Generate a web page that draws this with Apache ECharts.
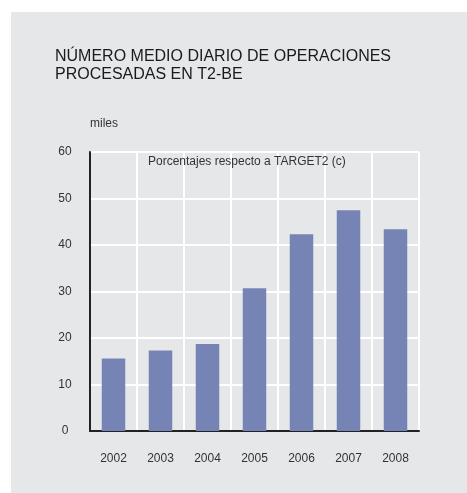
<!DOCTYPE html>
<html>
<head>
<meta charset="utf-8">
<script src="https://cdn.jsdelivr.net/npm/echarts@6/dist/echarts.min.js"></script>
<style>
  html, body { margin: 0; padding: 0; background: #fff; }
  #main { width: 467px; height: 493px; }
</style>
</head>
<body>
<div id="main"></div>
<script>
// años y número medio diario de operaciones (miles)
var years = ['2002', '2003', '2004', '2005', '2006', '2007', '2008'];
var operaciones = [15.6, 17.3, 18.7, 30.7, 42.3, 47.5, 43.4];
var yTicks = { min: 0, max: 60, interval: 10 };

var chart = echarts.init(document.getElementById('main'));
var font = '"Liberation Sans", Arial, Helvetica, sans-serif';

var option = {
  animation: false,
  textStyle: { fontFamily: font },
  graphic: [
    {
      type: 'rect',
      z: -10,
      shape: { x: 11, y: 12, width: 456, height: 481 },
      style: { fill: '#e6e7e8' }
    },
    {
      type: 'text',
      left: 90,
      top: 118,
      style: { text: 'miles', fontSize: 12, fill: '#333', fontFamily: font }
    },
    {
      type: 'text',
      left: 148,
      top: 156,
      z: 10,
      style: { text: 'Porcentajes respecto a TARGET2 (c)', fontSize: 12, fill: '#333', fontFamily: font }
    }
  ],
  title: {
    text: 'NÚMERO MEDIO DIARIO DE OPERACIONES\nPROCESADAS EN T2-BE',
    left: 50,
    top: 43,
    textStyle: {
      fontSize: 16,
      fontWeight: 'normal',
      color: '#1a1a1a',
      lineHeight: 18,
      fontFamily: font
    }
  },
  grid: { left: 90, top: 152, right: 48, bottom: 62 },
  xAxis: {
    type: 'category',
    data: years,
    axisLine: { lineStyle: { color: '#222', width: 2 } },
    axisTick: { show: false },
    axisLabel: { color: '#333', fontSize: 12, margin: 22 },
    splitLine: { show: true, lineStyle: { color: '#fff', width: 2 } }
  },
  yAxis: {
    type: 'value',
    min: yTicks.min,
    max: yTicks.max,
    interval: yTicks.interval,
    axisLine: { show: true, lineStyle: { color: '#222', width: 2 } },
    axisTick: { show: false },
    axisLabel: { color: '#333', fontSize: 12, margin: 25, align: 'center' },
    splitLine: { show: true, lineStyle: { color: '#fff', width: 2 } }
  },
  series: [
    {
      type: 'bar',
      data: operaciones,
      barWidth: '50%',
      itemStyle: { color: '#7584b5' }
    }
  ]
};

chart.setOption(option);
</script>
</body>
</html>
